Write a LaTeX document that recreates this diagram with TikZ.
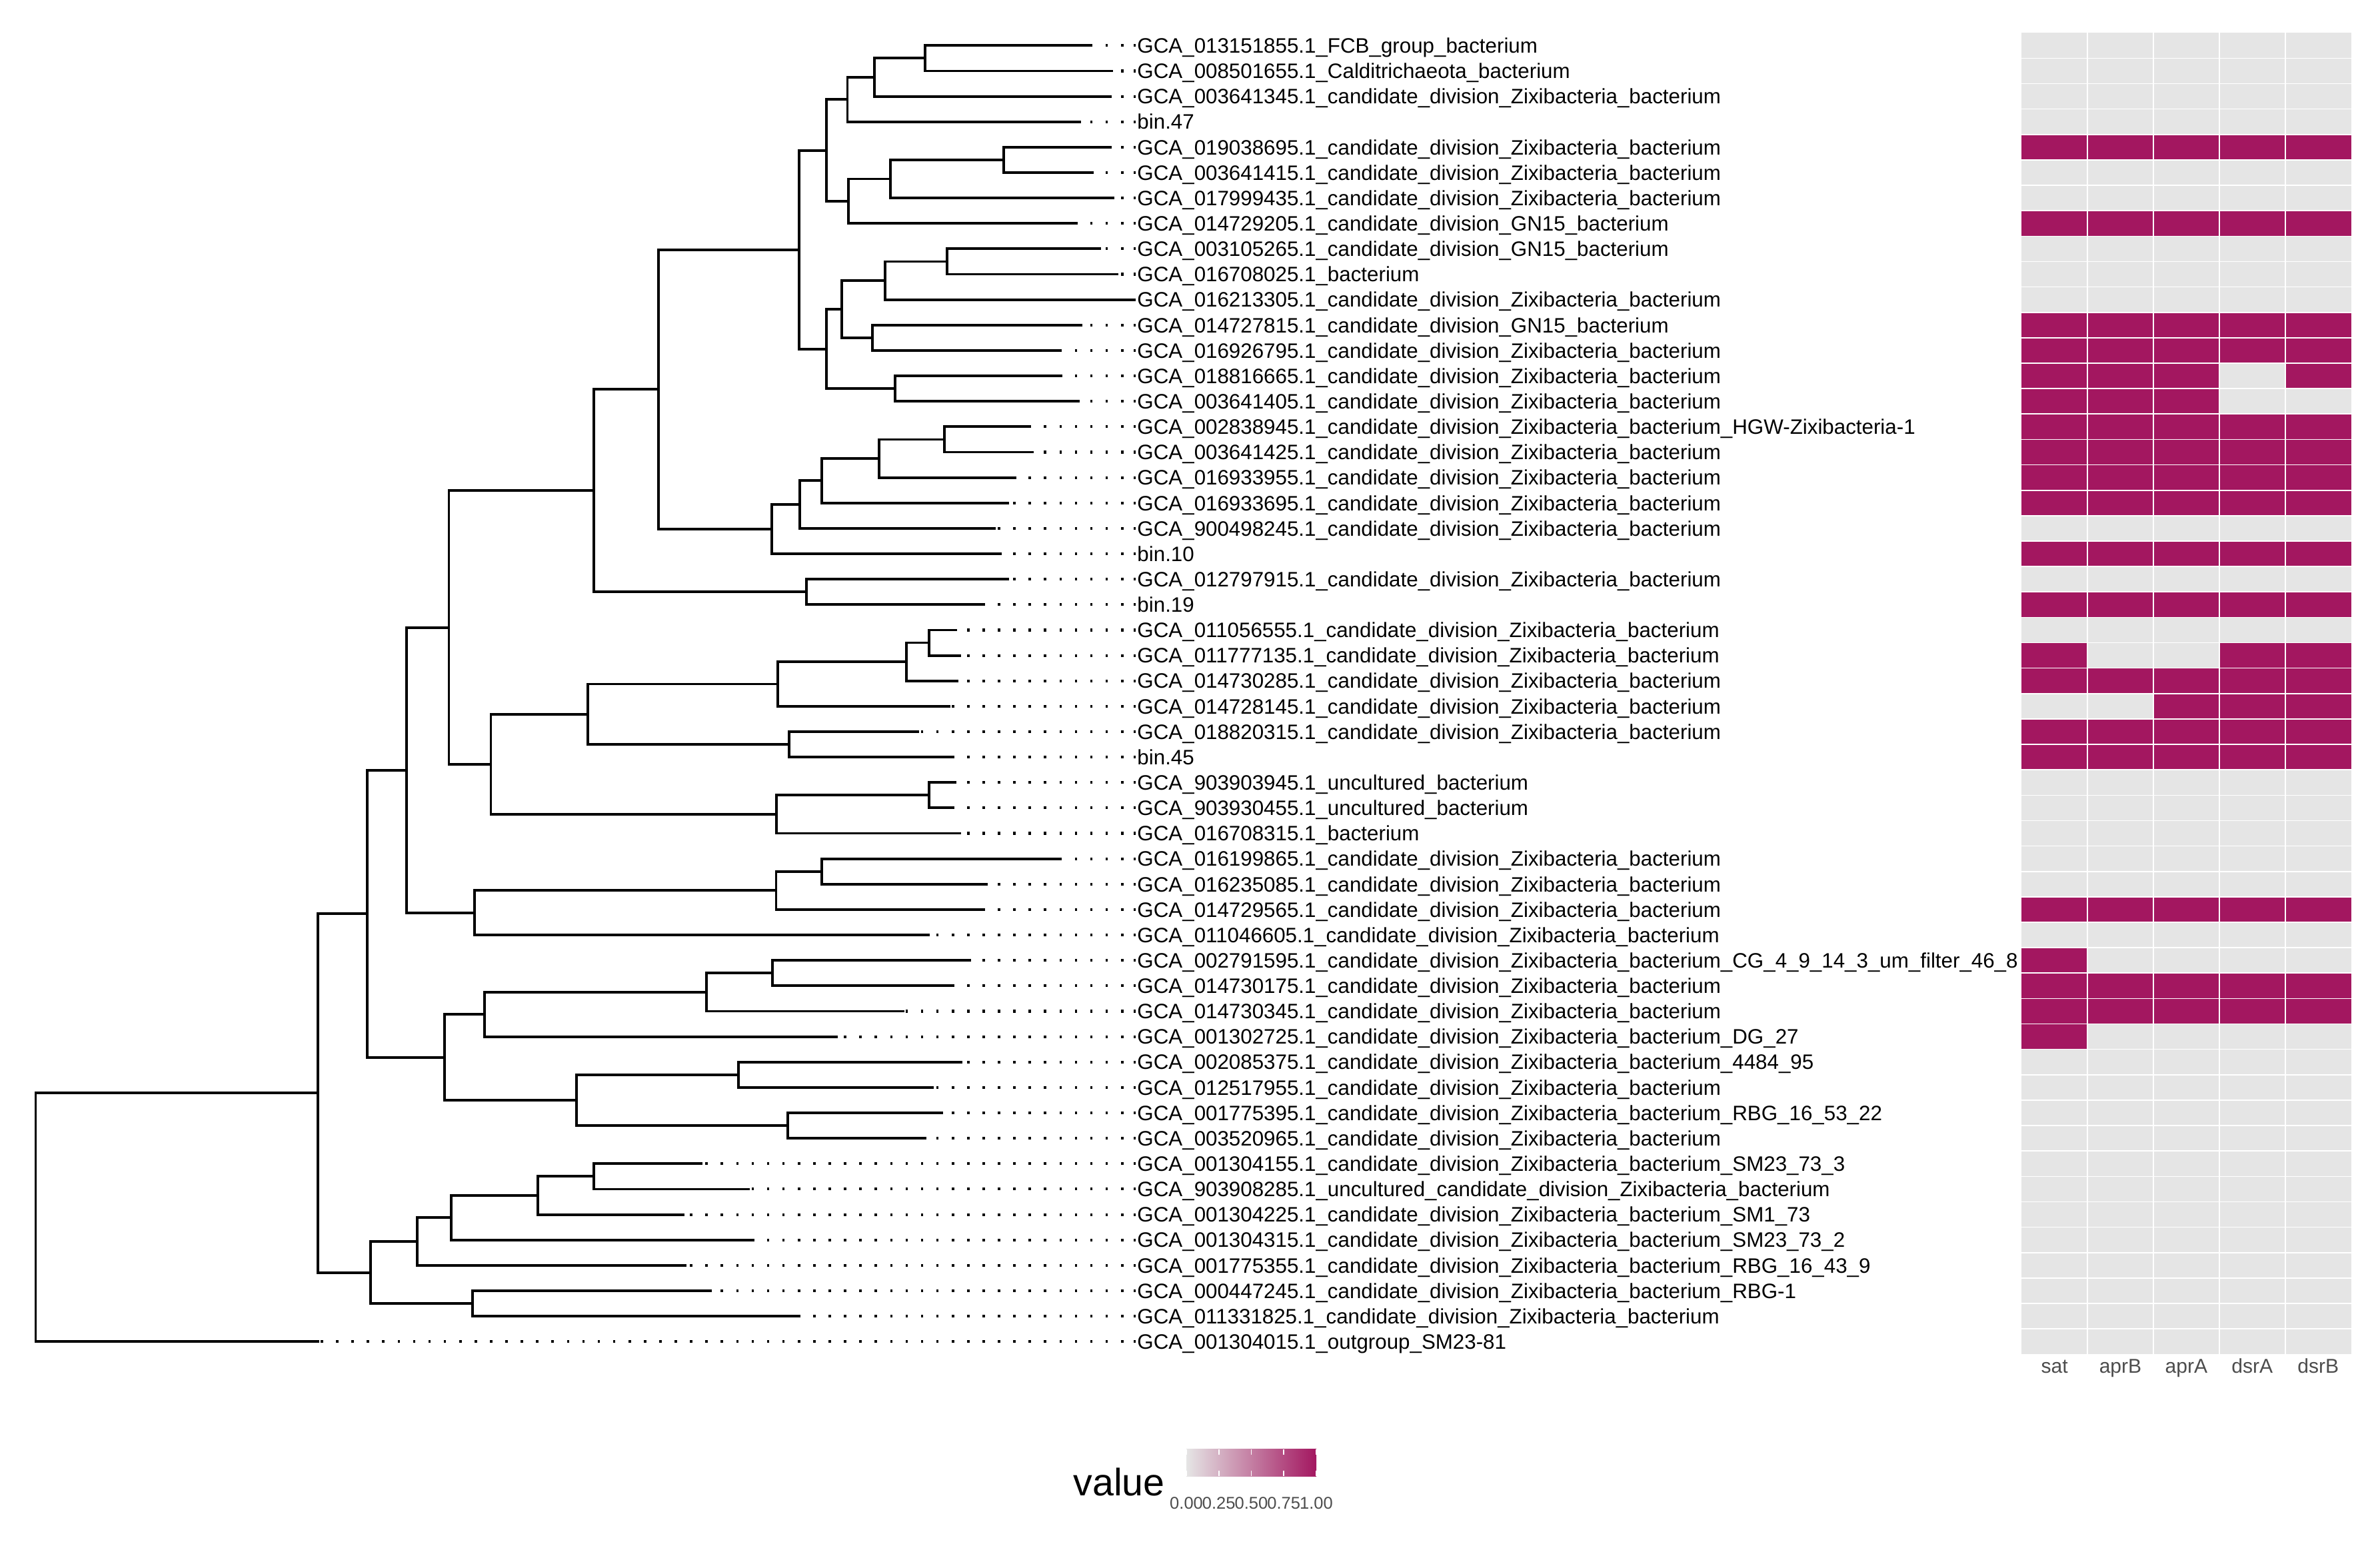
\documentclass[tikz,border=0pt]{standalone}
\usepackage{fontspec}
\setmainfont{Liberation Sans}
\definecolor{mag}{RGB}{163,23,96}
\definecolor{cellgrey}{RGB}{229,229,229}
\definecolor{axgrey}{RGB}{77,77,77}
\newcommand{\Zx}{\_candidate\_division\_Zixibacteria\_bacterium}
\tikzset{
  branch/.style={draw=black, line width=1.7pt, line join=miter},
  dotline/.style={draw=black, line width=1.8pt, dash pattern=on 1.6pt off 8.54pt},
  tiplab/.style={anchor=west, inner sep=0pt, outer sep=0pt, text height=9.86pt, text depth=0pt, font=\fontsize{13.75}{15}\selectfont},
  collab/.style={anchor=base, inner sep=0pt, text=axgrey, font=\fontsize{13.2}{15}\selectfont},
  ticklab/.style={anchor=base, inner sep=0pt, text=axgrey, font=\fontsize{11.2}{13}\selectfont},
  gridline/.style={draw=white, line width=0.7pt}
}
\begin{document}
\begin{tikzpicture}[x=1pt,y=-1pt]
\fill[white] (0,0) rectangle (1568,1017);
\useasboundingbox (0,0) rectangle (1568,1017);

% ---------- tips and labels ----------
\foreach \i/\tx/\lab in {
1/718.5/{GCA\_013151855.1\_FCB\_group\_bacterium},
2/733.2/{GCA\_008501655.1\_Calditrichaeota\_bacterium},
3/732.2/{GCA\_003641345.1\Zx},
4/712/{bin.47},
5/732.2/{GCA\_019038695.1\Zx},
6/720.5/{GCA\_003641415.1\Zx},
7/734.2/{GCA\_017999435.1\Zx},
8/710/{GCA\_014729205.1\_candidate\_division\_GN15\_bacterium},
9/725.4/{GCA\_003105265.1\_candidate\_division\_GN15\_bacterium},
10/736.8/{GCA\_016708025.1\_bacterium},
11/748/{GCA\_016213305.1\Zx},
12/713.2/{GCA\_014727815.1\_candidate\_division\_GN15\_bacterium},
13/698.6/{GCA\_016926795.1\Zx},
14/699.3/{GCA\_018816665.1\Zx},
15/711.2/{GCA\_003641405.1\Zx},
16/677.4/{GCA\_002838945.1\Zx\_HGW-Zixibacteria-1},
17/681/{GCA\_003641425.1\Zx},
18/669/{GCA\_016933955.1\Zx},
19/664.8/{GCA\_016933695.1\Zx},
20/655.8/{GCA\_900498245.1\Zx},
21/660/{bin.10},
22/664.8/{GCA\_012797915.1\Zx},
23/647/{bin.19},
24/630.5/{GCA\_011056555.1\Zx},
25/633/{GCA\_011777135.1\Zx},
26/631.5/{GCA\_014730285.1\Zx},
27/626.3/{GCA\_014728145.1\Zx},
28/605.4/{GCA\_018820315.1\Zx},
29/628.5/{bin.45},
30/630/{GCA\_903903945.1\_uncultured\_bacterium},
31/627/{GCA\_903930455.1\_uncultured\_bacterium},
32/633/{GCA\_016708315.1\_bacterium},
33/698/{GCA\_016199865.1\Zx},
34/650.7/{GCA\_016235085.1\Zx},
35/648/{GCA\_014729565.1\Zx},
36/612.5/{GCA\_011046605.1\Zx},
37/639.8/{GCA\_002791595.1\Zx\_CG\_4\_9\_14\_3\_um\_filter\_46\_8},
38/627/{GCA\_014730175.1\Zx},
39/596/{GCA\_014730345.1\Zx},
40/552/{GCA\_001302725.1\Zx\_DG\_27},
41/634/{GCA\_002085375.1\Zx\_4484\_95},
42/615/{GCA\_012517955.1\Zx},
43/621.2/{GCA\_001775395.1\Zx\_RBG\_16\_53\_22},
44/610.3/{GCA\_003520965.1\Zx},
45/462.7/{GCA\_001304155.1\Zx\_SM23\_73\_3},
46/494.1/{GCA\_903908285.1\_uncultured\_candidate\_division\_Zixibacteria\_bacterium},
47/450.8/{GCA\_001304225.1\Zx\_SM1\_73},
48/496.5/{GCA\_001304315.1\Zx\_SM23\_73\_2},
49/452.2/{GCA\_001775355.1\Zx\_RBG\_16\_43\_9},
50/468.9/{GCA\_000447245.1\Zx\_RBG-1},
51/526/{GCA\_011331825.1\Zx},
52/210.5/{GCA\_001304015.1\_outgroup\_SM23-81}}{
  \pgfmathsetmacro\yy{30+(\i-1)*16.745}
  \coordinate (t\i) at (\tx,\yy);
  \node[tiplab] (L\i) at (749.3,\yy) {\lab};
  \ifnum\i=11\relax\else
    \draw[dotline] ([xshift=-1pt]L\i.west) -- ([xshift=-2.6pt]L\i.west);
    \draw[dotline] ([xshift=-9.2pt]L\i.west) -- (t\i);
  \fi
}

% ---------- internal nodes ----------
\coordinate (n609) at (609.3,38.37);
\coordinate (n576) at (576,50.93);
\coordinate (n558) at (558.3,65.59);
\coordinate (n661) at (661.2,105.36);
\coordinate (n587) at (586.8,117.91);
\coordinate (n559) at (558.9,132.57);
\coordinate (n545a) at (544.6,99.08);
\coordinate (n624) at (623.9,172.34);
\coordinate (n583) at (583,184.89);
\coordinate (n575) at (574.6,222.57);
\coordinate (n555) at (554.7,203.73);
\coordinate (n590) at (589.8,256.06);
\coordinate (n545b) at (544.6,229.90);
\coordinate (n526) at (526.3,164.49);
\coordinate (n622) at (622,289.55);
\coordinate (n579) at (579.2,302.11);
\coordinate (n541) at (541.5,316.76);
\coordinate (n527) at (526.8,332.46);
\coordinate (n508) at (508.5,348.68);
\coordinate (n434) at (433.8,256.59);
\coordinate (n531) at (531.4,390.02);
\coordinate (n391a) at (391.2,323.30);
\coordinate (n612a) at (612,423.51);
\coordinate (n597) at (597,436.07);
\coordinate (n512) at (512.3,450.72);
\coordinate (n520) at (520,490.49);
\coordinate (n387) at (387.4,470.60);
\coordinate (n612b) at (612,523.98);
\coordinate (n511b) at (511.4,536.54);
\coordinate (n323) at (323.4,503.57);
\coordinate (n296) at (295.7,413.44);
\coordinate (n542) at (541.5,574.21);
\coordinate (n511c) at (511.3,586.77);
\coordinate (n313) at (312.7,601.42);
\coordinate (n268) at (267.8,507.43);
\coordinate (n509) at (508.8,641.20);
\coordinate (n465) at (465.5,653.75);
\coordinate (n319) at (319.4,668.41);
\coordinate (n487) at (486.5,708.18);
\coordinate (n519) at (518.9,741.67);
\coordinate (n380) at (379.7,724.92);
\coordinate (n293) at (292.8,696.67);
\coordinate (n242) at (242,602.05);
\coordinate (n391b) at (391.3,775.16);
\coordinate (n354) at (354.4,787.71);
\coordinate (n297) at (297.4,802.37);
\coordinate (n275) at (274.8,818.06);
\coordinate (n311) at (311.4,858.88);
\coordinate (n244) at (244.2,838.47);
\coordinate (n209) at (209.5,720.26);
\coordinate (root) at (23.5,802.13);

% ---------- branches ----------
\foreach \p/\c in {
n609/t1, n609/t2, n576/n609, n576/t3, n558/n576, n558/t4,
n661/t5, n661/t6, n587/n661, n587/t7, n559/n587, n559/t8,
n545a/n558, n545a/n559,
n624/t9, n624/t10, n583/n624, n583/t11, n575/t12, n575/t13,
n555/n583, n555/n575, n590/t14, n590/t15, n545b/n555, n545b/n590,
n526/n545a, n526/n545b,
n622/t16, n622/t17, n579/n622, n579/t18, n541/n579, n541/t19,
n527/n541, n527/t20, n508/n527, n508/t21,
n434/n526, n434/n508, n531/t22, n531/t23, n391a/n434, n391a/n531,
n612a/t24, n612a/t25, n597/n612a, n597/t26, n512/n597, n512/t27,
n520/t28, n520/t29, n387/n512, n387/n520,
n612b/t30, n612b/t31, n511b/n612b, n511b/t32,
n323/n387, n323/n511b, n296/n391a, n296/n323,
n542/t33, n542/t34, n511c/n542, n511c/t35, n313/n511c, n313/t36,
n268/n296, n268/n313,
n509/t37, n509/t38, n465/n509, n465/t39, n319/n465, n319/t40,
n487/t41, n487/t42, n519/t43, n519/t44, n380/n487, n380/n519,
n293/n319, n293/n380, n242/n268, n242/n293,
n391b/t45, n391b/t46, n354/n391b, n354/t47, n297/n354, n297/t48,
n275/n297, n275/t49, n311/t50, n311/t51, n244/n275, n244/n311,
n209/n242, n209/n244, root/n209, root/t52}{
  \draw[branch] (\c) -| (\p);
}

% ---------- heatmap ----------
\fill[cellgrey] (1331.8,21.63) rectangle (1549,892.37);
\foreach \r/\a/\b in {5/1/5, 8/1/5, 12/1/5, 13/1/5, 14/1/3, 14/5/5, 15/1/3,
  16/1/5, 17/1/5, 18/1/5, 19/1/5, 21/1/5, 23/1/5, 25/1/1, 25/4/5, 26/1/5,
  27/3/5, 28/1/5, 29/1/5, 35/1/5, 37/1/1, 38/1/5, 39/1/5, 40/1/1}{
  \pgfmathsetmacro\yy{30+(\r-1)*16.745}
  \fill[mag] ({1331.8+(\a-1)*43.44},{\yy-8.3725}) rectangle ({1331.8+\b*43.44},{\yy+8.3725});
}
\foreach \c in {1,...,4}{
  \draw[gridline] ({1331.8+\c*43.44},21.63) -- ({1331.8+\c*43.44},892.37);
}
\foreach \r in {1,...,51}{
  \pgfmathsetmacro\yy{30+(\r-1)*16.745+8.3725}
  \draw[gridline] (1331.8,\yy) -- (1549,\yy);
}
\foreach \c/\n in {1/sat,2/aprB,3/aprA,4/dsrA,5/dsrB}{
  \node[collab] (col\c) at ({1331.8+(\c-0.5)*43.44},904.6) {\n};
}

% ---------- legend ----------
\node[anchor=base west, inner sep=0pt, font=\fontsize{25.2}{28}\selectfont] (legtitle) at (707,985.7) {value};
\shade[left color=cellgrey, right color=mag] (781.6,955) rectangle (867.2,972.6);
\foreach \t/\v in {0/0.00,1/0.25,2/0.50,3/0.75,4/1.00}{
  \draw[draw=white, line width=0.8pt] ({781.6+\t*21.4},955) -- ++(0,3.5);
  \draw[draw=white, line width=0.8pt] ({781.6+\t*21.4},972.6) -- ++(0,-3.5);
  \node[ticklab] (tk\t) at ({781.6+\t*21.4},994.5) {\v};
}
\end{tikzpicture}
\end{document}
